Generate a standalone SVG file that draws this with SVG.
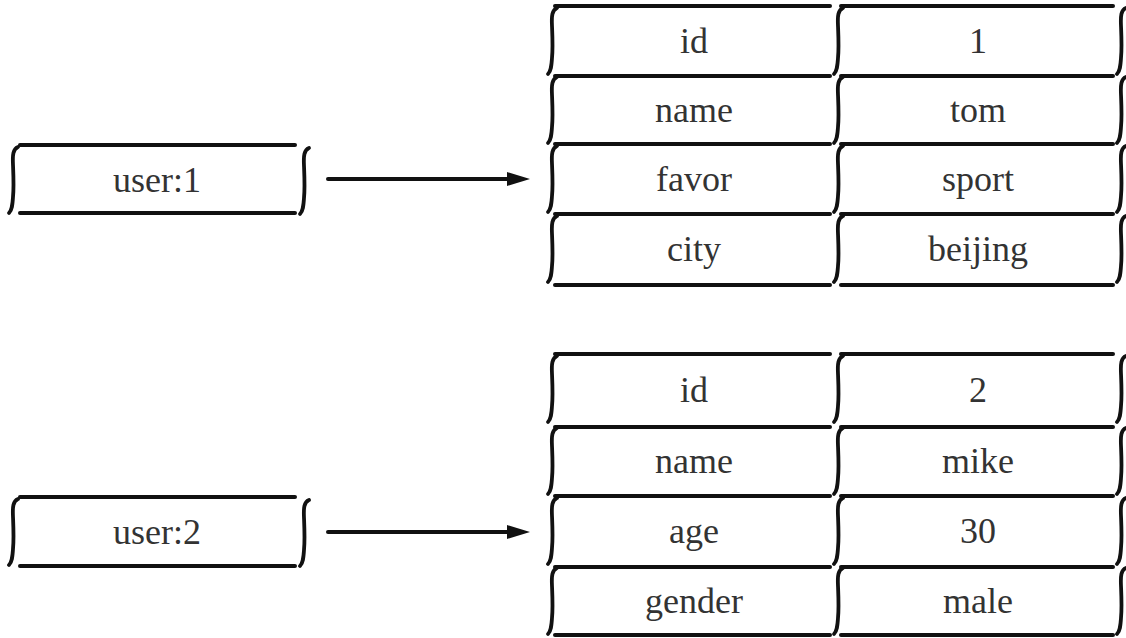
<svg xmlns="http://www.w3.org/2000/svg" xmlns:xlink="http://www.w3.org/1999/xlink" width="1126" height="638" viewBox="0 0 1126 638">
<style>
.ln{stroke:#111;stroke-width:4;stroke-linecap:round;fill:none}
.bk{stroke:#111;stroke-width:3.8;stroke-linecap:round;fill:none}
.t{font-family:"Liberation Serif","Times New Roman",serif;font-size:36px;fill:#333;text-anchor:middle}
</style>
<defs>
<path id="brk" class="bk" d="M 5 0 C 0 2, -0.5 8, 0 18 C 0.5 30, 1 40, 0 50 C -0.5 58, -1 63, -4 66"/>
</defs>
<rect width="1126" height="638" fill="#fff"/>

<g id="user1">
<line class="ln" x1="20" y1="145" x2="295" y2="145"/>
<line class="ln" x1="20" y1="213" x2="295" y2="213"/>
<use xlink:href="#brk" x="13" y="147"/>
<use xlink:href="#brk" x="304" y="148"/>
<text class="t" x="157" y="192">user:1</text>
</g>

<g id="user2">
<line class="ln" x1="20" y1="497" x2="295" y2="497"/>
<line class="ln" x1="20" y1="566" x2="295" y2="566"/>
<use xlink:href="#brk" x="13" y="499"/>
<use xlink:href="#brk" x="304" y="500"/>
<text class="t" x="157" y="544">user:2</text>
</g>

<g id="hash1">
<g id="h1-lines">
<line class="ln" x1="555" y1="6" x2="830" y2="6"/>
<line class="ln" x1="555" y1="76" x2="830" y2="76"/>
<line class="ln" x1="555" y1="144" x2="830" y2="144"/>
<line class="ln" x1="555" y1="214" x2="830" y2="214"/>
<line class="ln" x1="555" y1="285" x2="830" y2="285"/>
<line class="ln" x1="841" y1="6" x2="1113" y2="6"/>
<line class="ln" x1="841" y1="76" x2="1113" y2="76"/>
<line class="ln" x1="841" y1="144" x2="1113" y2="144"/>
<line class="ln" x1="841" y1="214" x2="1113" y2="214"/>
<line class="ln" x1="841" y1="285" x2="1113" y2="285"/>
</g>
<g id="h1-brackets">
<use xlink:href="#brk" x="552" y="8"/>
<use xlink:href="#brk" x="552" y="77"/>
<use xlink:href="#brk" x="552" y="146"/>
<use xlink:href="#brk" x="552" y="216"/>
<use xlink:href="#brk" x="838" y="8"/>
<use xlink:href="#brk" x="838" y="77"/>
<use xlink:href="#brk" x="838" y="146"/>
<use xlink:href="#brk" x="838" y="216"/>
<use xlink:href="#brk" x="1121" y="8"/>
<use xlink:href="#brk" x="1121" y="77"/>
<use xlink:href="#brk" x="1121" y="146"/>
<use xlink:href="#brk" x="1121" y="216"/>
</g>
<g id="h1-id"><text class="t" x="694" y="53">id</text></g>
<g id="h1-id-v"><text class="t" x="978" y="53">1</text></g>
<g id="h1-name"><text class="t" x="694" y="122">name</text></g>
<g id="h1-name-v"><text class="t" x="978" y="122">tom</text></g>
<g id="h1-favor"><text class="t" x="694" y="191">favor</text></g>
<g id="h1-favor-v"><text class="t" x="978" y="191">sport</text></g>
<g id="h1-city"><text class="t" x="694" y="261">city</text></g>
<g id="h1-city-v"><text class="t" x="978" y="261">beijing</text></g>
</g>

<g id="hash2">
<g id="h2-lines">
<line class="ln" x1="555" y1="354" x2="830" y2="354"/>
<line class="ln" x1="555" y1="427" x2="830" y2="427"/>
<line class="ln" x1="555" y1="496" x2="830" y2="496"/>
<line class="ln" x1="555" y1="567" x2="830" y2="567"/>
<line class="ln" x1="555" y1="635" x2="830" y2="635"/>
<line class="ln" x1="841" y1="354" x2="1113" y2="354"/>
<line class="ln" x1="841" y1="427" x2="1113" y2="427"/>
<line class="ln" x1="841" y1="496" x2="1113" y2="496"/>
<line class="ln" x1="841" y1="567" x2="1113" y2="567"/>
<line class="ln" x1="841" y1="635" x2="1113" y2="635"/>
</g>
<g id="h2-brackets">
<use xlink:href="#brk" x="552" y="356"/>
<use xlink:href="#brk" x="552" y="428"/>
<use xlink:href="#brk" x="552" y="498"/>
<use xlink:href="#brk" x="552" y="568"/>
<use xlink:href="#brk" x="838" y="356"/>
<use xlink:href="#brk" x="838" y="428"/>
<use xlink:href="#brk" x="838" y="498"/>
<use xlink:href="#brk" x="838" y="568"/>
<use xlink:href="#brk" x="1121" y="356"/>
<use xlink:href="#brk" x="1121" y="428"/>
<use xlink:href="#brk" x="1121" y="498"/>
<use xlink:href="#brk" x="1121" y="568"/>
</g>
<g id="h2-id"><text class="t" x="694" y="402">id</text></g>
<g id="h2-id-v"><text class="t" x="978" y="402">2</text></g>
<g id="h2-name"><text class="t" x="694" y="473">name</text></g>
<g id="h2-name-v"><text class="t" x="978" y="473">mike</text></g>
<g id="h2-age"><text class="t" x="694" y="543">age</text></g>
<g id="h2-age-v"><text class="t" x="978" y="543">30</text></g>
<g id="h2-gender"><text class="t" x="694" y="613">gender</text></g>
<g id="h2-gender-v"><text class="t" x="978" y="613">male</text></g>
</g>

<g id="connectors">
<line class="ln" x1="328" y1="179" x2="510" y2="179"/>
<path d="M507 172 L530 179 L507 186 Z" fill="#111"/>
<line class="ln" x1="328" y1="532" x2="510" y2="532"/>
<path d="M507 525 L530 532 L507 539 Z" fill="#111"/>
</g>
</svg>
